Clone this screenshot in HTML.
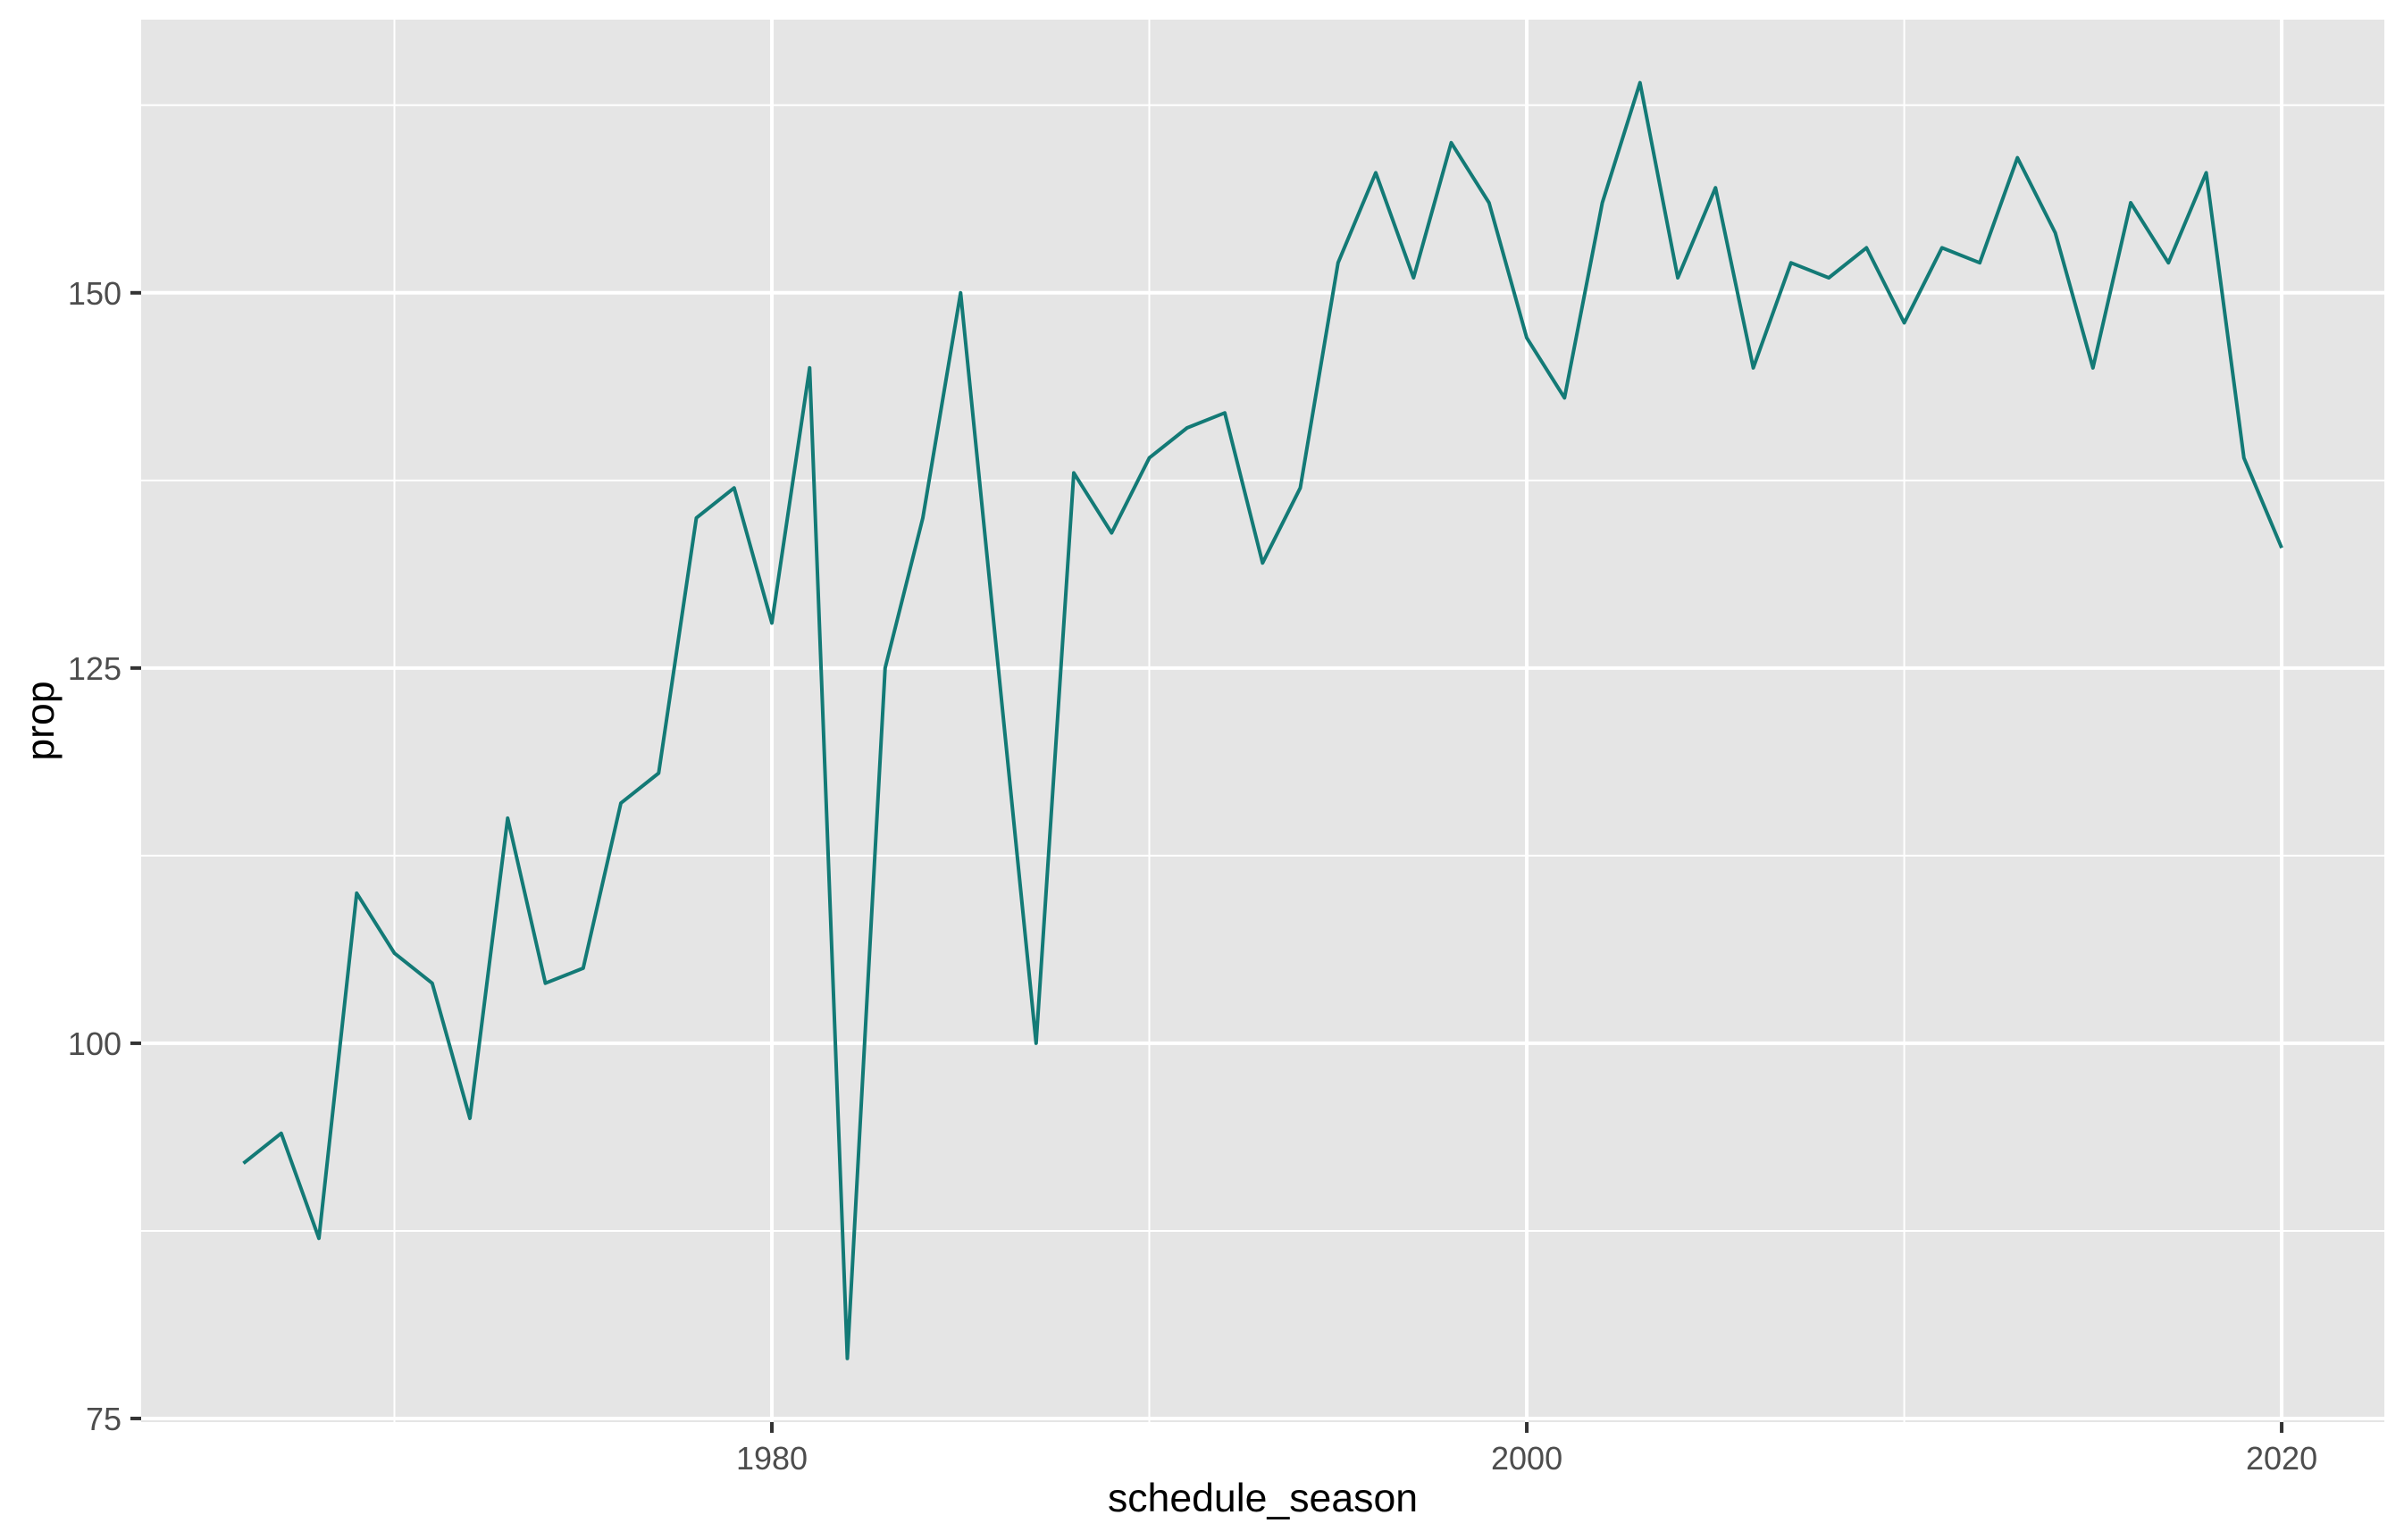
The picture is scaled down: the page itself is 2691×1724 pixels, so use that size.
<!DOCTYPE html>
<html><head><meta charset="utf-8"><style>
html,body{margin:0;padding:0;background:#fff;}
svg{display:block;font-family:"Liberation Sans",Arial,sans-serif;}
</style></head><body>
<svg id="chart" width="2691" height="1724"></svg>
<script>
const years = [1966,1967,1968,1969,1970,1971,1972,1973,1974,1975,1976,1977,1978,1979,1980,1981,1982,1983,1984,1985,1986,1987,1988,1989,1990,1991,1992,1993,1994,1995,1996,1997,1998,1999,2000,2001,2002,2003,2004,2005,2006,2007,2008,2009,2010,2011,2012,2013,2014,2015,2016,2017,2018,2019,2020];
const propValues = [92,94,87,110,106,104,95,115,104,105,116,118,135,137,128,145,79,125,135,150,125,100,138,134,139,141,142,132,137,152,158,151,160,156,147,143,156,164,151,157,145,152,151,153,148,153,152,159,154,145,156,152,158,139,133];
const xTicks = [1980,2000,2020];
const xMinor = [1970,1990,2010];
const yTicks = [75,100,125,150];
const yMinor = [87.5,112.5,137.5,162.5];

const NS="http://www.w3.org/2000/svg";
const svg=document.getElementById('chart');
const L=158,R=2669,T=22,B=1592;
const xMin=1963.29,xMax=2022.72,yMin=74.76,yMax=168.2;
const xs=v=>L+(v-xMin)/(xMax-xMin)*(R-L);
const ys=v=>B-(v-yMin)/(yMax-yMin)*(B-T);
function mk(tag,attrs,parent){const e=document.createElementNS(NS,tag);for(const k in attrs)e.setAttribute(k,attrs[k]);(parent||svg).appendChild(e);return e;}

const panel=mk('rect',{x:L,y:T,width:R-L,height:B-T,fill:'#e5e5e5'});



yMinor.forEach(v=>{const l=mk('line',{x1:L,x2:R,y1:ys(v),y2:ys(v),stroke:'#fff','stroke-width':2});

});
xMinor.forEach(v=>{const l=mk('line',{x1:xs(v),x2:xs(v),y1:T,y2:B,stroke:'#fff','stroke-width':2});

});
yTicks.forEach(v=>{const l=mk('line',{x1:L,x2:R,y1:ys(v),y2:ys(v),stroke:'#fff','stroke-width':4});


const t=mk('line',{x1:L-12,x2:L,y1:ys(v),y2:ys(v),stroke:'#333','stroke-width':4});


const tx=mk('text',{x:L-22,y:ys(v)+13,'text-anchor':'end','font-size':36,fill:'#4d4d4d'});tx.textContent=v;

});
xTicks.forEach(v=>{const l=mk('line',{x1:xs(v),x2:xs(v),y1:T,y2:B,stroke:'#fff','stroke-width':4});


const t=mk('line',{x1:xs(v),x2:xs(v),y1:B,y2:B+12,stroke:'#333','stroke-width':4});


const tx=mk('text',{x:xs(v),y:1645,'text-anchor':'middle','font-size':36,fill:'#4d4d4d'});tx.textContent=v;

});

const pts=years.map((y,i)=>xs(y).toFixed(1)+','+ys(propValues[i]).toFixed(1)).join(' ');
const line=mk('polyline',{points:pts,fill:'none',stroke:'#137a76','stroke-width':4,'stroke-linejoin':'round'});



const xt=mk('text',{x:(L+R)/2,y:1692,'text-anchor':'middle','font-size':44.6,fill:'#000'});xt.textContent='schedule_season';


const yt=mk('text',{x:0,y:0,'text-anchor':'middle','font-size':44.6,fill:'#000',transform:`translate(60,${(T+B)/2}) rotate(-90)`});yt.textContent='prop';


</script>
</body></html>
